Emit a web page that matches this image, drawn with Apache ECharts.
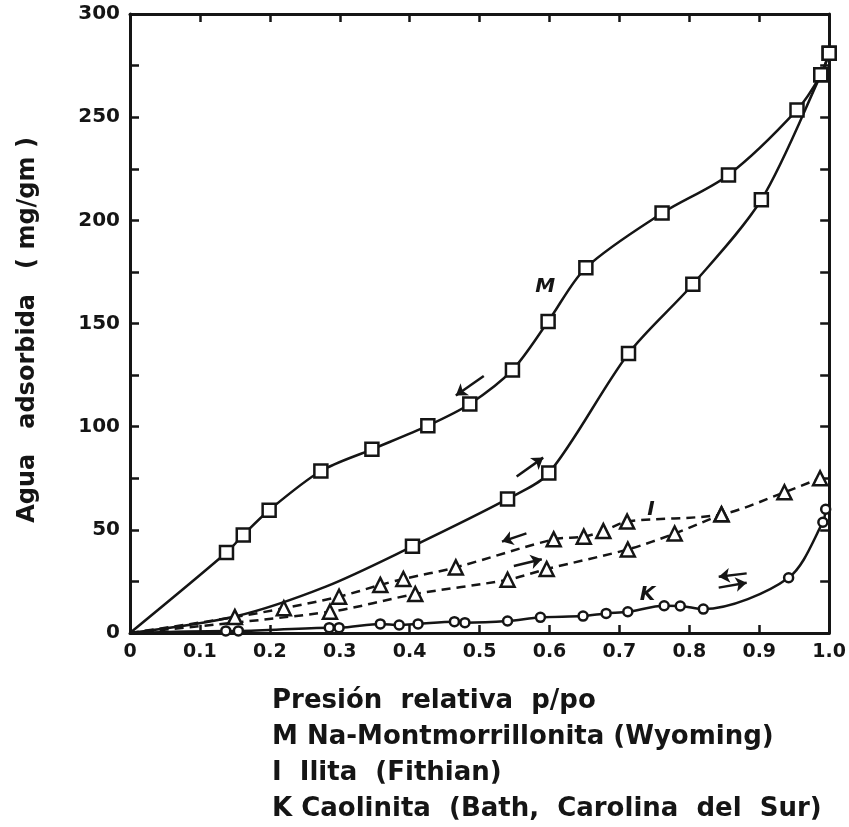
<!DOCTYPE html>
<html>
<head>
<meta charset="utf-8">
<script src="https://cdn.jsdelivr.net/npm/echarts@6/dist/echarts.min.js"></script>
<style>
  html, body { margin: 0; padding: 0; background: #fff; }
  #chart { width: 849px; height: 827px; }
</style>
</head>
<body>
<div id="chart"></div>
<script>
// valores (p/po, mg/gm)
const mDesorcion = [[0, 0], [0.138, 39], [0.162, 47.5], [0.199, 59.5], [0.273, 78.5], [0.346, 89], [0.426, 100.5],
    [0.486, 111], [0.547, 127.5], [0.598, 151], [0.652, 177], [0.761, 203.5], [0.856, 222], [0.954, 253.5],
    [0.988, 270.5], [1.0, 281]];
const mAdsorcion = [[0, 0], [0.15, 8], [0.28, 22.5], [0.404, 42], [0.540, 65], [0.599, 77.5], [0.713, 135.5],
    [0.805, 169], [0.903, 210], [0.988, 270.5], [1.0, 281]];
const mOcultos = [0, 1, 2];   // puntos de la curva sin marcador

const iDesorcion = [[0, 0], [0.15, 7.7], [0.22, 12], [0.299, 17.6], [0.358, 23.3], [0.391, 26.2], [0.466, 31.8],
    [0.606, 45.4], [0.649, 46.7], [0.677, 49.4], [0.711, 54], [0.846, 57.5], [0.936, 68.2], [0.987, 75]];
const iAdsorcion = [[0, 0], [0.286, 10.3], [0.408, 18.9], [0.540, 25.8], [0.596, 31], [0.712, 40.5],
    [0.779, 48.2], [0.846, 57.5]];

const kCurva = [[0, 0], [0.137, 1], [0.155, 1], [0.285, 2.6], [0.299, 2.6], [0.358, 4.4], [0.385, 3.9],
    [0.412, 4.4], [0.464, 5.5], [0.479, 5], [0.540, 5.8], [0.587, 7.6], [0.648, 8.2], [0.681, 9.5],
    [0.712, 10.3], [0.764, 13.2], [0.787, 13.1], [0.820, 11.6], [0.942, 26.8], [0.991, 53.7], [0.995, 60]];

// flechas (inicio, fin) y letras de las curvas
const flechasM = [[[0.506, 124.6], [0.466, 115.1]], [[0.553, 75.8], [0.591, 85]]];
const flechasI = [[[0.567, 48.3], [0.532, 44.3]], [[0.549, 32.5], [0.589, 35.7]]];
const flechasK = [[[0.882, 28.9], [0.842, 27.3]], [[0.842, 22], [0.882, 24.4]]];
const letras = { M: [0.594, 167.7], I: [0.745, 59.6], K: [0.740, 18.4] };

const yTicks = [0, 50, 100, 150, 200, 250, 300];
const xTicks = ['0', '0.1', '0.2', '0.3', '0.4', '0.5', '0.6', '0.7', '0.8', '0.9', '1.0'];
const leyenda = ['Presión  relativa  p/po', 'M Na-Montmorrillonita (Wyoming)', 'I  Ilita  (Fithian)',
    'K Caolinita  (Bath,  Carolina  del  Sur)'];

const negro = '#151515';
const fuente = 'DejaVu Sans';

const puntos = (arr, ocultos) => arr.map((p, i) =>
    (i === 0 || (ocultos && ocultos.includes(i))) ? { value: p, symbol: 'none' } : p);

const flechas = arr => ({
    silent: true,
    symbol: ['none', 'arrow'],
    symbolSize: 11,
    label: { show: false },
    lineStyle: { color: negro, type: 'solid', width: 2.5 },
    data: arr.map(f => [{ coord: f[0] }, { coord: f[1] }])
});

const letra = key => ({
    silent: true,
    symbol: 'circle',
    symbolSize: 1,
    itemStyle: { color: 'transparent' },
    label: {
        show: true, position: 'inside', formatter: key, color: negro,
        fontFamily: fuente, fontStyle: 'italic', fontWeight: 'bold', fontSize: 20
    },
    data: [{ coord: letras[key] }]
});

const curva = (data, simbolo, tam, tipo, extra) => Object.assign({
    type: 'line',
    data: data,
    smooth: 0.3,
    symbol: simbolo,
    symbolSize: tam,
    showAllSymbol: true,
    lineStyle: { color: negro, width: 2.5, type: tipo },
    itemStyle: { color: '#fff', borderColor: negro, borderWidth: 2.5 },
    z: 3
}, extra || {});

const chart = echarts.init(document.getElementById('chart'));

const ejeX = (pos, etiquetas) => ({
    type: 'value', position: pos, min: 0, max: 1, interval: 0.1,
    axisLine: { show: true, onZero: false, lineStyle: { color: negro, width: 3 } },
    axisTick: { show: true, inside: true, length: 8, lineStyle: { color: negro, width: 2.5 } },
    splitLine: { show: false },
    axisLabel: {
        show: etiquetas, margin: 10, color: negro, fontFamily: fuente, fontWeight: 'bold', fontSize: 19,
        formatter: v => xTicks[Math.round(v * 10)]
    }
});
const ejeY = (pos, etiquetas) => ({
    type: 'value', position: pos, min: 0, max: 300, interval: 25,
    axisLine: { show: true, onZero: false, lineStyle: { color: negro, width: 3 } },
    axisTick: { show: true, inside: true, length: 9, lineStyle: { color: negro, width: 2.5 } },
    splitLine: { show: false },
    axisLabel: {
        show: etiquetas, margin: 10, color: negro, fontFamily: fuente, fontWeight: 'bold', fontSize: 20,
        formatter: v => yTicks.includes(v) ? String(v) : ''
    }
});

const option = {
    backgroundColor: '#fff',
    animation: false,
    grid: { left: 130, right: 14, top: 14, bottom: 194 },
    xAxis: [ejeX('bottom', true), ejeX('top', false)],
    yAxis: [ejeY('left', true), ejeY('right', false)],
    graphic: [
        {
            type: 'text', x: 28, y: 330, rotation: Math.PI / 2,
            style: {
                text: 'Agua   adsorbida   ( mg/gm )', fill: negro, font: 'bold 24px "' + fuente + '"',
                align: 'center', verticalAlign: 'middle'
            }
        }
    ].concat(leyenda.map((t, i) => ({
        type: 'text', left: 272, top: 688 + i * 36,
        style: { text: t, fill: negro, font: 'bold 26px "' + fuente + '"' }
    }))),
    series: [
        curva(puntos(mDesorcion), 'rect', 13, 'solid', { markLine: flechas(flechasM), markPoint: letra('M') }),
        curva(puntos(mAdsorcion, mOcultos), 'rect', 13, 'solid'),
        curva(puntos(iDesorcion), 'triangle', 14, [9, 6], { markLine: flechas(flechasI), markPoint: letra('I') }),
        curva(puntos(iAdsorcion), 'triangle', 14, [9, 6]),
        curva(puntos(kCurva), 'circle', 9, 'solid', { markLine: flechas(flechasK), markPoint: letra('K') })
    ]
};

chart.setOption(option);
</script>
</body>
</html>
